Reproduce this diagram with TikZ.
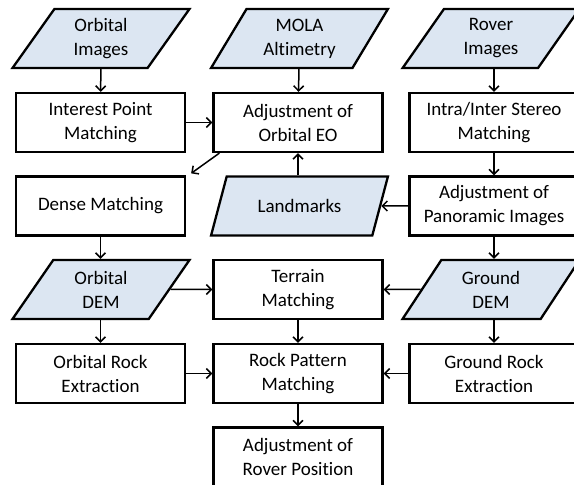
\documentclass[tikz,border=0pt]{standalone}
\usepackage{fontspec}
\setmainfont[Ligatures=NoCommon]{Carlito}
\usetikzlibrary{shapes.geometric,arrows.meta}
\definecolor{datafill}{HTML}{DCE6F2}
\begin{document}
\begin{tikzpicture}[x=1pt,y=1pt,
  box/.style={draw,line width=2.3pt,minimum width=169pt,minimum height=59pt,inner sep=1pt,align=center,font=\fontsize{19}{24}\selectfont},
  data/.style={box,trapezium,trapezium left angle=59,trapezium right angle=121,trapezium stretches=true,minimum width=177pt,fill=datafill},
  arr/.style={line width=1.5pt,-{Straight Barb[length=5pt,width=10pt,line width=1.5pt]}}]
\useasboundingbox (0,0) rectangle (574,485);
\node[data] (oimg) at (101,446.5) {Orbital\\Images};
\node[data] (mola) at (299.5,446.5) {MOLA\\Altimetry};
\node[data] (rimg) at (491,446.5) {Rover\\Images};
\node[box] (ipm) at (100.5,362.5) {Interest Point\\Matching};
\node[box] (orbeo) at (298,362.5) {Adjustment of\\Orbital EO};
\node[box] (iism) at (494,362.5) {Intra/Inter Stereo\\Matching};
\node[box] (dense) at (100.5,279) {Dense Matching};
\node[data] (lmk) at (299.5,279) {Landmarks};
\node[box] (pano) at (494,279) {Adjustment of\\Panoramic Images};
\node[data] (odem) at (101,195.5) {Orbital\\DEM};
\node[box] (terrain) at (298,195.5) {Terrain\\Matching};
\node[data] (gdem) at (491,195.5) {Ground\\DEM};
\node[box] (orock) at (100.5,111.5) {Orbital Rock\\Extraction};
\node[box] (rpm) at (298,111.5) {Rock Pattern\\Matching};
\node[box] (grock) at (494,111.5) {Ground Rock\\Extraction};
\node[box] (rover) at (298,28) {Adjustment of\\Rover Position};
\draw[arr] (oimg) -- (ipm);
\draw[arr] (mola) -- (orbeo);
\draw[arr] (rimg.south -| iism) -- (iism);
\draw[arr] (ipm) -- (orbeo);
\draw[arr] ([xshift=7pt]orbeo.south west) -- ([xshift=5pt,yshift=2pt]dense.north east);
\draw[arr] (lmk.north -| orbeo) -- (orbeo);
\draw[arr] (iism) -- (pano);
\draw[arr] (pano) -- (lmk);
\draw[arr] (dense) -- (odem.north -| dense);
\draw[arr] (pano) -- (gdem.north -| pano);
\draw[arr] (odem) -- (terrain);
\draw[arr] (gdem) -- (terrain);
\draw[arr] (odem.south -| orock) -- (orock);
\draw[arr] (gdem.south -| grock) -- (grock);
\draw[arr] (terrain) -- (rpm);
\draw[arr] (orock) -- (rpm);
\draw[arr] (grock) -- (rpm);
\draw[arr] (rpm) -- (rover);
\end{tikzpicture}
\end{document}
